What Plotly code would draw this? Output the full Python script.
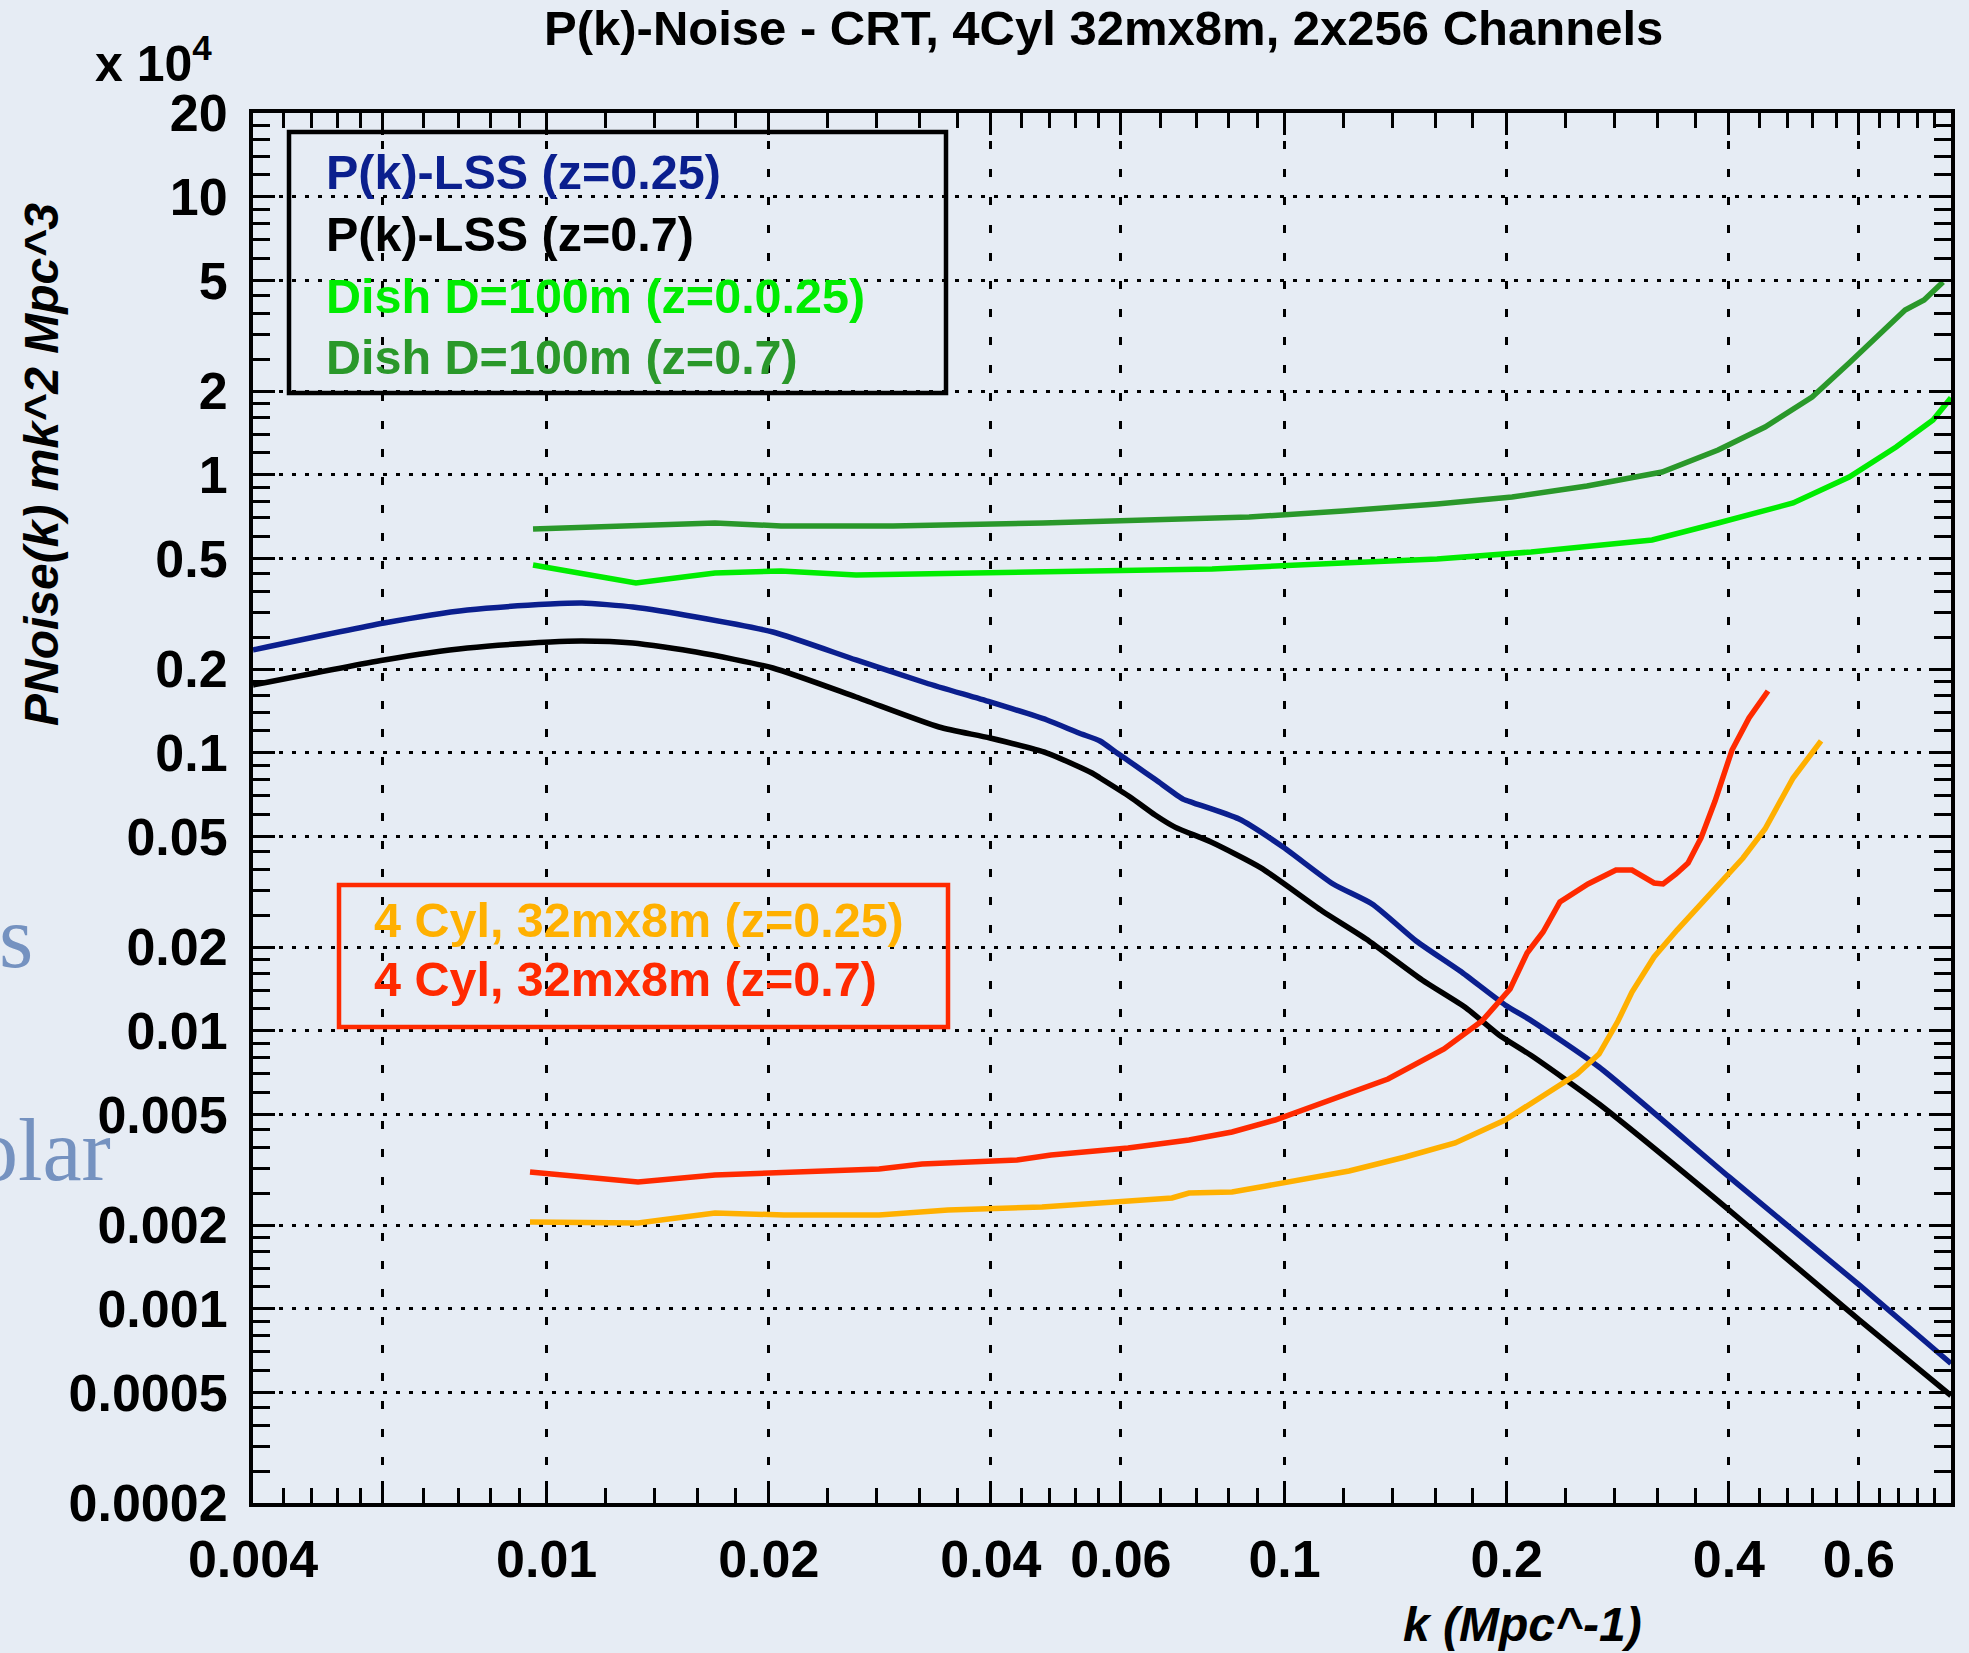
import math
import plotly.graph_objects as go

# ---- data: k in Mpc^-1, power in units of 1e4 mK^2 Mpc^3 ----
k_lss_z025 = [0.004, 0.00602, 0.00781, 0.01011, 0.01117, 0.01309, 0.01594, 0.02026, 0.02626,
              0.03267, 0.03989, 0.04765, 0.05265, 0.05622, 0.05929, 0.06232, 0.06696, 0.07284,
              0.07538, 0.08677, 0.09952, 0.11636, 0.13141, 0.15076, 0.17292, 0.19896, 0.21642,
              0.26674, 0.40029, 0.60068, 0.8]
p_lss_z025 = [0.2342, 0.2927, 0.326, 0.3425, 0.3454, 0.3342, 0.3078, 0.2717, 0.2156,
              0.1781, 0.1522, 0.1311, 0.1177, 0.1102, 0.0997, 0.0911, 0.0797, 0.0681,
              0.0659, 0.0577, 0.0458, 0.0337, 0.02855, 0.02102, 0.01639, 0.01238, 0.01083,
              0.007402, 0.002977, 0.001217, 0.000635]

k_lss_z07 = [0.004, 0.00602, 0.00781, 0.01011, 0.01117, 0.01309, 0.01594, 0.02026, 0.02626,
             0.03402, 0.03989, 0.04765, 0.05483, 0.05622, 0.06175, 0.06676, 0.07104, 0.0795,
             0.0929, 0.11243, 0.12897, 0.15361, 0.17619, 0.19526, 0.21642, 0.26674, 0.40029,
             0.60068, 0.8]
p_lss_z07 = [0.1752, 0.2156, 0.238, 0.2501, 0.2522, 0.2481, 0.2303, 0.2017, 0.1586,
             0.1237, 0.1129, 0.0997, 0.0845, 0.0811, 0.0693, 0.0597, 0.0540, 0.0477,
             0.0385, 0.02695, 0.02137, 0.01522, 0.01207, 0.009649, 0.008108, 0.005448, 0.002264,
             0.000911, 0.000487]

k_dish_z025 = [0.009584, 0.013213, 0.016907, 0.020775, 0.026259, 0.037244, 0.049933, 0.079744,
               0.12005, 0.16089, 0.21576, 0.31479, 0.38679, 0.48878, 0.58221, 0.67409, 0.75636, 0.8]
p_dish_z025 = [0.4732, 0.4078, 0.4431, 0.4504, 0.4357, 0.4431, 0.4504, 0.4578,
               0.4812, 0.4974, 0.5271, 0.5823, 0.6704, 0.7909, 0.9810, 1.2575, 1.573, 1.89]

k_dish_z07 = [0.009584, 0.016907, 0.020775, 0.029466, 0.047062, 0.066964, 0.089524, 0.12005,
              0.16089, 0.20336, 0.25694, 0.32476, 0.38679, 0.44776, 0.51864, 0.58221, 0.63531,
              0.69326, 0.73556, 0.78036]
p_dish_z07 = [0.6376, 0.6704, 0.6539, 0.6539, 0.6704, 0.6929, 0.7045, 0.7403,
              0.7843, 0.8312, 0.9106, 1.0225, 1.2269, 1.484, 1.903, 2.521, 3.128,
              3.912, 4.250, 4.934]

k_cyl_z025 = [0.009494, 0.013298, 0.016907, 0.02097, 0.028213, 0.034992, 0.046915, 0.059846,
              0.07038, 0.074217, 0.084882, 0.094378, 0.10299, 0.12229, 0.14567, 0.17023, 0.19896,
              0.22403, 0.24906, 0.26674, 0.28301, 0.29565, 0.31673, 0.34029, 0.3773, 0.41804,
              0.44776, 0.48877, 0.53336]
p_cyl_z025 = [0.00205, 0.002033, 0.002209, 0.002173, 0.002173, 0.002264, 0.002321, 0.002439,
              0.002501, 0.002607, 0.002629, 0.002763, 0.00288, 0.003128, 0.003513, 0.003945, 0.004772,
              0.00587, 0.006985, 0.008243, 0.01083, 0.01378, 0.01841, 0.02302, 0.03129, 0.0418,
              0.05314, 0.08108, 0.1102]

k_cyl_z07 = [0.009494, 0.013298, 0.016907, 0.02097, 0.028213, 0.032262, 0.040016, 0.043397,
             0.048252, 0.061361, 0.074217, 0.084882, 0.097067, 0.11384, 0.13808, 0.16445, 0.18513,
             0.20211, 0.21312, 0.22403, 0.23611, 0.25775, 0.28125, 0.29565, 0.31673, 0.32575,
             0.33923, 0.35217, 0.36675, 0.3831, 0.40398, 0.42594, 0.45196]
p_cyl_z07 = [0.003102, 0.002856, 0.003028, 0.003078, 0.003181, 0.003315, 0.003398, 0.003426,
             0.003571, 0.003785, 0.004044, 0.00432, 0.004772, 0.00554, 0.006703, 0.008592, 0.01083,
             0.01413, 0.01903, 0.02264, 0.02904, 0.03371, 0.03784, 0.03784, 0.03399, 0.03371,
             0.03661, 0.0401, 0.04933, 0.06702, 0.1022, 0.1333, 0.1667]

# ---- axes ----
x_range = [0.004, 0.8]
y_range = [0.0002, 20]
x_major = [0.004, 0.006, 0.01, 0.02, 0.04, 0.06, 0.1, 0.2, 0.4, 0.6]
x_labels = ["0.004", "", "0.01", "0.02", "0.04", "0.06", "0.1", "0.2", "0.4", "0.6"]
y_major = [0.0002, 0.0005, 0.001, 0.002, 0.005, 0.01, 0.02, 0.05,
           0.1, 0.2, 0.5, 1, 2, 5, 10, 20]
y_labels = ["0.0002", "0.0005", "0.001", "0.002", "0.005", "0.01", "0.02", "0.05",
            "0.1", "0.2", "0.5", "1", "2", "5", "10", "20"]

legend_top = ["P(k)-LSS (z=0.25)", "P(k)-LSS (z=0.7)",
              "Dish D=100m (z=0.0.25)", "Dish D=100m (z=0.7)"]
legend_bottom = ["4 Cyl, 32mx8m (z=0.25)", "4 Cyl, 32mx8m (z=0.7)"]

C_BLUE = "#0b1f8e"
C_BLACK = "#000000"
C_LGREEN = "#00ec00"
C_DGREEN = "#2a982a"
C_ORANGE = "#ffb000"
C_RED = "#ff2a00"
BG = "#e6ecf4"
SANS = "Liberation Sans, Arial, Helvetica, sans-serif"
SERIF = "Liberation Serif, Times New Roman, serif"


def subdivide(edges, n=5):
    """Linear minor-tick positions between consecutive major ticks."""
    out = []
    for a, b in zip(edges[:-1], edges[1:]):
        out += [a + (b - a) * i / n for i in range(1, n)]
    return out


fig = go.Figure()
series = [
    (k_lss_z025, p_lss_z025, C_BLUE, "spline"),
    (k_lss_z07, p_lss_z07, C_BLACK, "spline"),
    (k_dish_z025, p_dish_z025, C_LGREEN, "linear"),
    (k_dish_z07, p_dish_z07, C_DGREEN, "linear"),
    (k_cyl_z025, p_cyl_z025, C_ORANGE, "linear"),
    (k_cyl_z07, p_cyl_z07, C_RED, "linear"),
]
for kx, py, col, shape in series:
    fig.add_trace(go.Scatter(
        x=kx, y=py, mode="lines",
        line=dict(color=col, width=5.5, shape=shape, smoothing=0.6 if shape == "spline" else None),
        hoverinfo="skip",
    ))

axis_common = dict(
    type="log",
    showline=True, linewidth=4, linecolor="black", mirror="ticks",
    ticks="inside", ticklen=22, tickwidth=3, tickcolor="black",
    tickfont=dict(family=SANS, size=52, color="black", weight="bold"),
    showgrid=True, gridcolor="black", gridwidth=3,
    zeroline=False,
)

fig.update_xaxes(
    **axis_common,
    range=[math.log10(x_range[0]), math.log10(x_range[1])],
    tickmode="array", tickvals=x_major, ticktext=x_labels,
    griddash="8px,20px",
    ticklabelstandoff=8,
    minor=dict(tickmode="array", tickvals=subdivide(x_major + [x_range[1]]),
               ticks="inside", ticklen=15, tickwidth=3, tickcolor="black", showgrid=False),
)
fig.update_yaxes(
    **axis_common,
    range=[math.log10(y_range[0]), math.log10(y_range[1])],
    tickmode="array", tickvals=y_major, ticktext=y_labels,
    griddash="4px,9px",
    ticklabelstandoff=11,
    minor=dict(tickmode="array", tickvals=subdivide(y_major),
               ticks="inside", ticklen=17, tickwidth=3, tickcolor="black", showgrid=False),
)

# plot area geometry (pixels) used to place the text blocks
W, H = 1969, 1653
L, R, T, B = 253, 18, 113, 150
PW, PH = W - L - R, H - T - B


def px(x):
    return (x - L) / PW


def py_(y):
    return (H - B - y) / PH


ann = []


def text(x, y, s, size, color="black", xanchor="center", family=SANS, angle=0):
    ann.append(dict(x=px(x), y=py_(y), xref="paper", yref="paper", text=s,
                    showarrow=False, xanchor=xanchor, yanchor="middle", textangle=angle,
                    font=dict(family=family, size=size, color=color)))


text(1103, 28, "<b>P(k)-Noise - CRT, 4Cyl 32mx8m, 2x256 Channels</b>", 49)
text(214, 60, "<b>x 10<sup>4</sup></b>", 50, xanchor="right")
text(41, 465, "<b><i>PNoise(k) mk^2 Mpc^3</i></b>", 48, angle=-90)
text(1522, 1624, "<b><i>k (Mpc^-1)</i></b>", 48)

# legend blocks
for i, (label, col) in enumerate(zip(legend_top, [C_BLUE, C_BLACK, C_LGREEN, C_DGREEN])):
    text(324, 172 + 61.8 * i, "<b>" + label + "</b>", 48.5, color=col, xanchor="left")
for i, (label, col) in enumerate(zip(legend_bottom, [C_ORANGE, C_RED])):
    text(372, 920 + 59 * i, "<b>" + label + "</b>", 48.5, color=col, xanchor="left")

# fragments of slide text showing at the left edge
text(35, 937, "s", 88, color="#7592c0", xanchor="right", family=SERIF)
text(113, 1150, "olar", 88, color="#7592c0", xanchor="right", family=SERIF)

shapes = [
    dict(type="rect", xref="paper", yref="paper", x0=px(289), x1=px(946), y0=py_(393), y1=py_(132),
         line=dict(color="black", width=4.5), fillcolor="rgba(0,0,0,0)"),
    dict(type="rect", xref="paper", yref="paper", x0=px(339), x1=px(948), y0=py_(1027), y1=py_(885),
         line=dict(color=C_RED, width=4.5), fillcolor="rgba(0,0,0,0)"),
]

fig.update_layout(
    width=W, height=H, autosize=False,
    margin=dict(l=L, r=R, t=T, b=B, pad=0),
    paper_bgcolor=BG, plot_bgcolor="rgba(0,0,0,0)",
    showlegend=False,
    annotations=ann, shapes=shapes,
)

fig.write_html("out.html")
